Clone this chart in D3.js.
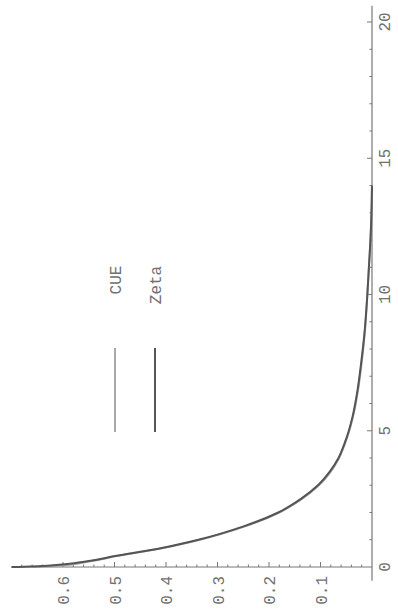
<!DOCTYPE html>
<html><head><meta charset="utf-8">
<script src="https://cdn.jsdelivr.net/npm/d3@7/dist/d3.min.js"></script>
<style>body{margin:0;background:#fff}svg{display:block}</style>
</head><body>
<script>
// Data (x = spacing variable, plotted along the rotated horizontal axis)
const xs   = [0, 0.05, 0.2, 0.4, 0.7, 1.0, 1.5, 2.0, 2.5, 3.0, 3.5, 4.0, 4.5, 5.0, 5.5, 6.5, 7.5, 8.5, 10, 11, 12, 13, 14];
const cue  = [0.66, 0.61, 0.55, 0.496, 0.405, 0.334, 0.245, 0.180, 0.136, 0.103, 0.080, 0.064, 0.053, 0.044, 0.037, 0.027, 0.020, 0.0145, 0.009, 0.006, 0.003, 0.001, 0];
const zeta = [0.70, 0.63, 0.556, 0.499, 0.408, 0.337, 0.248, 0.182, 0.138, 0.105, 0.082, 0.065, 0.054, 0.045, 0.038, 0.028, 0.021, 0.015, 0.009, 0.006, 0.003, 0.001, 0];
const seriesNames = ["CUE", "Zeta"];
const xTicks = [0, 5, 10, 15, 20];
const yTicks = [0.1, 0.2, 0.3, 0.4, 0.5, 0.6];
const yTickLabels = ["0.1", "0.2", "0.3", "0.4", "0.5", "0.6"];

const W = 398, H = 614;
const svg = d3.select("body").append("svg").attr("width", W).attr("height", H);

// Rotated chart: data x runs bottom->top, values run right->left
const xS = d3.scaleLinear().domain([0, 20]).range([567, 22]);
const yS = d3.scaleLinear().domain([0, 0.6]).range([372, 63]);

const axisColor = "#777", textColor = "#707070";
const font = "'Liberation Mono', 'DejaVu Sans Mono', monospace";

// Horizontal axis (values)
const hAxis = svg.append("g");
hAxis.append("line").attr("x1", yS(0)).attr("x2", yS(0.7)).attr("y1", xS(0)).attr("y2", xS(0))
  .attr("stroke", axisColor).attr("stroke-width", 1.2);
d3.range(1, 35).forEach(i => {
  const v = i * 0.02;
  const major = i % 5 === 0;
  hAxis.append("line").attr("x1", yS(v)).attr("x2", yS(v))
    .attr("y1", xS(0)).attr("y2", xS(0) - (major ? 5 : 2.5))
    .attr("stroke", axisColor).attr("stroke-width", 1);
});
hAxis.selectAll("text.yl").data(yTicks).join("text").attr("class", "yl")
  .attr("transform", (d) => `translate(${yS(d) + 6},${xS(0) + 9}) rotate(-90)`)
  .attr("text-anchor", "end").attr("font-family", font).attr("font-size", 16)
  .attr("fill", textColor).text((d, i) => yTickLabels[i]);

// Vertical axis (x)
const vAxis = svg.append("g");
vAxis.append("line").attr("x1", yS(0)).attr("x2", yS(0)).attr("y1", xS(-0.5)).attr("y2", xS(20.6))
  .attr("stroke", axisColor).attr("stroke-width", 1.2);
d3.range(1, 21).forEach(i => {
  const major = i % 5 === 0;
  vAxis.append("line").attr("x1", yS(0)).attr("x2", yS(0) - (major ? 5 : 2.5))
    .attr("y1", xS(i)).attr("y2", xS(i)).attr("stroke", axisColor).attr("stroke-width", 1);
});
vAxis.selectAll("text.xl").data(xTicks).join("text").attr("class", "xl")
  .attr("transform", d => `translate(${yS(0) + 18},${xS(d)}) rotate(-90)`)
  .attr("text-anchor", "middle").attr("font-family", font).attr("font-size", 16)
  .attr("fill", textColor).text(d => d);

// Curves
const line = d3.line().x(d => yS(d[1])).y(d => xS(d[0])).curve(d3.curveMonotoneY);
const colors = ["#a8a8a8", "#555"];
[cue, zeta].forEach((s, k) => {
  svg.append("path").datum(xs.map((x, i) => [x, s[i]]))
    .attr("d", line).attr("fill", "none").attr("stroke", colors[k]).attr("stroke-width", 2);
});

// Legend
const legX = [115, 155];
seriesNames.forEach((n, k) => {
  svg.append("line").attr("x1", legX[k]).attr("x2", legX[k]).attr("y1", 348).attr("y2", 432)
    .attr("stroke", colors[k]).attr("stroke-width", 2);
  svg.append("text").attr("transform", `translate(${legX[k] + 6},${k === 0 ? 280 : 285}) rotate(-90)`)
    .attr("text-anchor", "middle").attr("font-family", font).attr("font-size", 16)
    .attr("fill", textColor).text(n);
});
</script>
</body></html>
